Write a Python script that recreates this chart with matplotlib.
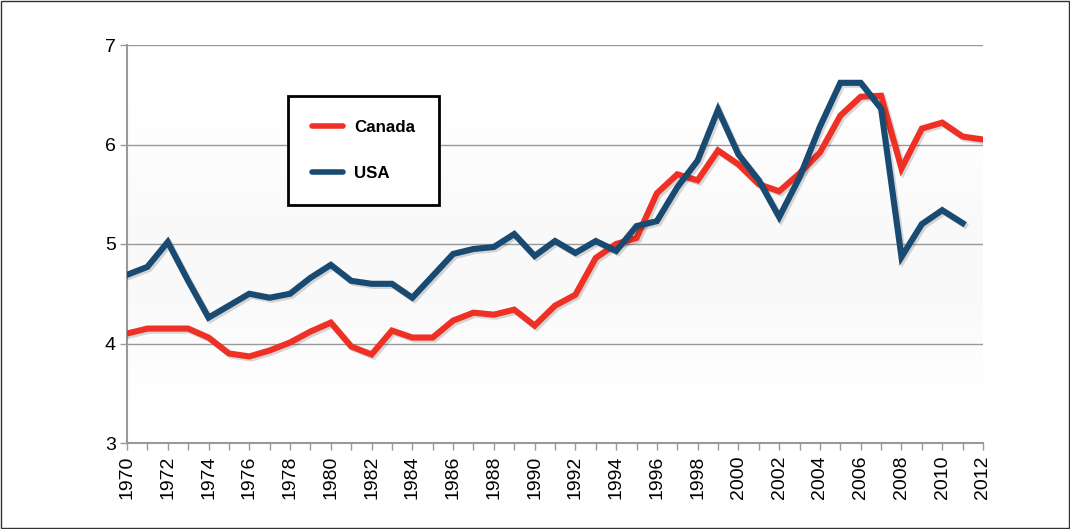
import numpy as np
import matplotlib
matplotlib.use("Agg")
import matplotlib.pyplot as plt
import matplotlib.patheffects as pe
from matplotlib.patches import Rectangle

years = list(range(1970, 2013))
canada = [4.10, 4.15, 4.15, 4.15, 4.06, 3.90, 3.87, 3.93, 4.01, 4.12,
          4.21, 3.97, 3.89, 4.13, 4.06, 4.06, 4.23, 4.31, 4.29, 4.34,
          4.18, 4.38, 4.49, 4.86, 5.00, 5.06, 5.51, 5.70, 5.64, 5.94,
          5.80, 5.60, 5.53, 5.71, 5.92, 6.29, 6.48, 6.49, 5.76, 6.16,
          6.22, 6.08, 6.05]
usa = [4.69, 4.77, 5.02, 4.63, 4.26, 4.38, 4.50, 4.46, 4.50, 4.66,
       4.79, 4.63, 4.60, 4.60, 4.46, 4.68, 4.90, 4.95, 4.97, 5.10,
       4.88, 5.03, 4.91, 5.03, 4.93, 5.18, 5.23, 5.57, 5.84, 6.35,
       5.90, 5.64, 5.27, 5.67, 6.18, 6.62, 6.62, 6.36, 4.87, 5.20,
       5.34, 5.21]
usa_years = years[:len(usa)]

RED = "#ee3124"
BLUE = "#194a72"
GRAY = "#999999"

plt.rcParams["font.family"] = ["Liberation Sans", "DejaVu Sans"]

fig = plt.figure(figsize=(10.7, 5.29), dpi=100)
ax = fig.add_axes([127 / 1070, 1 - 443 / 529, (983 - 127) / 1070, (443 - 45) / 529])

# subtle vertical background gradient
grad = np.array([1.0, 0.99, 0.978, 0.972, 0.975, 0.985, 0.995, 1.0]).reshape(-1, 1)
ax.imshow(grad, cmap="gray", vmin=0, vmax=1, aspect="auto",
          extent=[1970, 2012, 7, 3], origin="upper", zorder=0, interpolation="bicubic")

shadow = [pe.SimpleLineShadow(offset=(1.5, -1.5), shadow_color="#000000", alpha=0.15),
          pe.Normal()]
ax.plot(years, canada, color=RED, lw=4.4, label="Canada", zorder=3,
        solid_joinstyle="miter", path_effects=shadow)
ax.plot(usa_years, usa, color=BLUE, lw=4.4, label="USA", zorder=4,
        solid_joinstyle="miter", path_effects=shadow)

ax.set_xlim(1970, 2012)
ax.set_ylim(3, 7)
ax.set_yticks([3, 4, 5, 6, 7])
ax.yaxis.grid(True, color=GRAY, lw=1)
ax.set_axisbelow(True)
ax.set_xticks(years[::2])
ax.set_xticks(years, minor=True)
ax.tick_params(axis="x", which="both", direction="out", length=5, color=GRAY, width=1)
ax.tick_params(axis="x", which="major", labelrotation=90, labelsize=14, pad=4)
ax.tick_params(axis="y", direction="out", length=5, color=GRAY, width=1, labelsize=14, pad=3)
for side in ("top", "right"):
    ax.spines[side].set_visible(False)
for side in ("left", "bottom"):
    ax.spines[side].set_color(GRAY)
    ax.spines[side].set_linewidth(1.5)

leg = ax.legend(loc="upper left", bbox_to_anchor=((288 - 127) / 856, 1 - (96 - 45) / 398),
                frameon=True, fancybox=False, edgecolor="black", framealpha=1,
                prop={"weight": "bold", "size": 12.2}, handlelength=1.85,
                borderpad=1.4, labelspacing=1.85, handletextpad=0.65, borderaxespad=0)
leg.get_frame().set_linewidth(2)
for line in leg.get_lines():
    line.set_linewidth(4)
    line.set_solid_capstyle("round")
    line.set_path_effects([])

fig.add_artist(Rectangle((0.001, 0.001), 0.998, 0.997, transform=fig.transFigure,
                         fill=False, edgecolor="#333333", lw=1))

fig.savefig("out.png", dpi=100)
